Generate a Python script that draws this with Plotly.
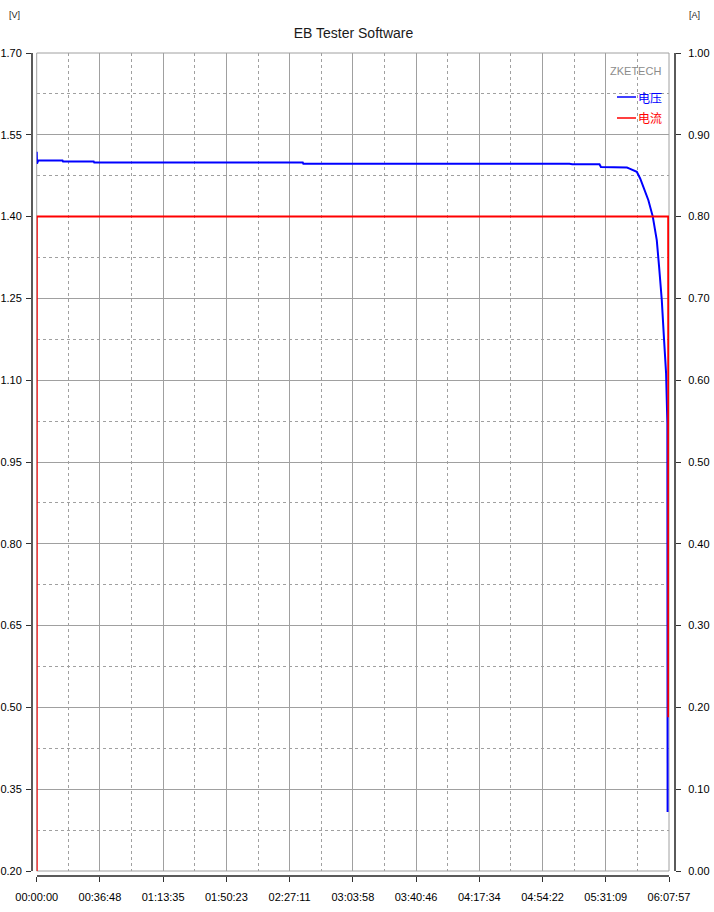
import plotly.graph_objects as go

# ---------------- data ----------------
# time in seconds since start
volt_t = [0, 10, 56, 900, 920, 1990, 2010, 9290, 9310, 18370, 18400, 18600, 18700,
          19650, 19700, 20610, 20700, 20822, 20952, 21070, 21183, 21357, 21511,
          21650, 21731, 21825, 21905, 21975, 22020, 22028]
volt_v = [1.519, 1.497, 1.503, 1.503, 1.501, 1.501, 1.499, 1.499, 1.497, 1.497, 1.498,
          1.497, 1.496, 1.496, 1.491, 1.490, 1.488, 1.485, 1.482, 1.470, 1.455, 1.430,
          1.400, 1.357, 1.308, 1.247, 1.174, 1.113, 1.021, 0.308]

curr_t = [0, 3, 22050, 22055]
curr_a = [0.0, 0.80, 0.80, 0.188]

x_tick_vals = [0, 2207.7, 4415.4, 6623.1, 8830.8, 11038.5, 13246.2, 15453.9,
               17661.6, 19869.3, 22077]
x_tick_text = ["00:00:00", "00:36:48", "01:13:35", "01:50:23", "02:27:11", "03:03:58",
               "03:40:46", "04:17:34", "04:54:22", "05:31:09", "06:07:57"]
v_ticks = [0.20, 0.35, 0.50, 0.65, 0.80, 0.95, 1.10, 1.25, 1.40, 1.55, 1.70]
a_ticks = [0.00, 0.10, 0.20, 0.30, 0.40, 0.50, 0.60, 0.70, 0.80, 0.90, 1.00]

title_text = "EB Tester Software"
legend_brand = "ZKETECH"
name_v = "电压"
name_a = "电流"

# ---------------- layout helpers ----------------
W, H = 714, 912
ML, MR, MT, MB = 32, 39, 53, 36
PW, PH = W - ML - MR, H - MT - MB


def px(x):
    return (x - ML) / PW


def py(y):
    return (H - MB - y) / PH


FONT = "Liberation Sans, Arial, sans-serif"
GRID = "#a0a0a0"
AXC = "#5a5a5a"

fig = go.Figure()
fig.add_trace(go.Scatter(x=volt_t, y=volt_v, mode="lines", name=name_v,
                         line=dict(color="#0000ff", width=2), xaxis="x", yaxis="y",
                         showlegend=False))
fig.add_trace(go.Scatter(x=curr_t, y=curr_a, mode="lines", name=name_a,
                         line=dict(color="#ff0000", width=2), xaxis="x", yaxis="y2",
                         showlegend=False))

x_minor = [(x_tick_vals[i] + x_tick_vals[i + 1]) / 2 for i in range(len(x_tick_vals) - 1)]
v_minor = [(v_ticks[i] + v_ticks[i + 1]) / 2 for i in range(len(v_ticks) - 1)]

fig.update_layout(
    width=W, height=H,
    margin=dict(l=ML, r=MR, t=MT, b=MB, pad=0, autoexpand=False),
    paper_bgcolor="white", plot_bgcolor="white",
    font=dict(family=FONT, size=11, color="#000000"),
    title=dict(text=title_text, x=0.5, xref="paper", xanchor="center",
               y=1 - 33 / H, yref="container", yanchor="middle",
               font=dict(family=FONT, size=14, color="#1a1a1a")),
    xaxis=dict(
        domain=[px(36.7), px(669)], anchor="free", position=0, automargin=False,
        range=[0, x_tick_vals[-1]], tickmode="array",
        tickvals=x_tick_vals, ticktext=x_tick_text,
        ticks="outside", ticklen=5, tickwidth=1, tickcolor="#303030",
        ticklabelstandoff=6,
        showline=True, linecolor=AXC, linewidth=2,
        showgrid=True, gridcolor=GRID, gridwidth=1, zeroline=False,
        minor=dict(tickmode="array", tickvals=x_minor, showgrid=True,
                   gridcolor=GRID, gridwidth=1, griddash="3px,3px", ticks=""),
    ),
    yaxis=dict(
        domain=[py(871), 1], anchor="free", position=0, automargin=False,
        range=[v_ticks[0], v_ticks[-1]], tickmode="array", tickvals=v_ticks,
        tickformat=".2f",
        ticks="outside", ticklen=5, tickwidth=1, tickcolor="#303030",
        ticklabelstandoff=2,
        showline=True, linecolor=AXC, linewidth=2,
        showgrid=True, gridcolor=GRID, gridwidth=1, zeroline=False,
        minor=dict(tickmode="array", tickvals=v_minor, showgrid=True,
                   gridcolor=GRID, gridwidth=1, griddash="3px,3px", ticks=""),
    ),
    yaxis2=dict(
        domain=[py(871), 1], overlaying="y", side="right", anchor="free", position=1,
        automargin=False,
        range=[a_ticks[0], a_ticks[-1]], tickmode="array", tickvals=a_ticks,
        tickformat=".2f",
        ticks="outside", ticklen=5, tickwidth=1, tickcolor="#303030",
        ticklabelstandoff=5,
        showline=True, linecolor=AXC, linewidth=2,
        showgrid=False, zeroline=False,
    ),
)

# plot border
fig.add_shape(type="rect", xref="x domain", yref="y domain", x0=0, x1=1, y0=0, y1=1,
              line=dict(color=GRID, width=1), layer="below")

# unit labels
fig.add_annotation(text="[V]", x=px(7), y=py(15), xref="paper", yref="paper",
                   xanchor="left", yanchor="middle", showarrow=False,
                   font=dict(family=FONT, size=9, color="#202020"))
fig.add_annotation(text="[A]", x=px(687), y=py(15), xref="paper", yref="paper",
                   xanchor="left", yanchor="middle", showarrow=False,
                   font=dict(family=FONT, size=9, color="#202020"))

# legend block
fig.add_annotation(text=legend_brand, x=px(663), y=py(71), xref="paper", yref="paper",
                   xanchor="right", yanchor="middle", showarrow=False,
                   font=dict(family=FONT, size=11, color="#8c8c8c"))
for name, col, yy in [(name_v, "#0000ff", 97), (name_a, "#ff0000", 118)]:
    fig.add_shape(type="line", xref="paper", yref="paper", x0=px(617), x1=px(636),
                  y0=py(yy), y1=py(yy), line=dict(color=col, width=1.5))
    fig.add_annotation(text=name, x=px(636), y=py(yy), xref="paper", yref="paper",
                       xanchor="left", yanchor="middle", showarrow=False,
                       font=dict(family="Noto Sans CJK SC", size=12, color=col))

fig.write_html("out.html",
               config={"displayModeBar": False},
               post_script="document.body.style.margin='0px';"
                           "document.body.style.overflow='hidden';")
